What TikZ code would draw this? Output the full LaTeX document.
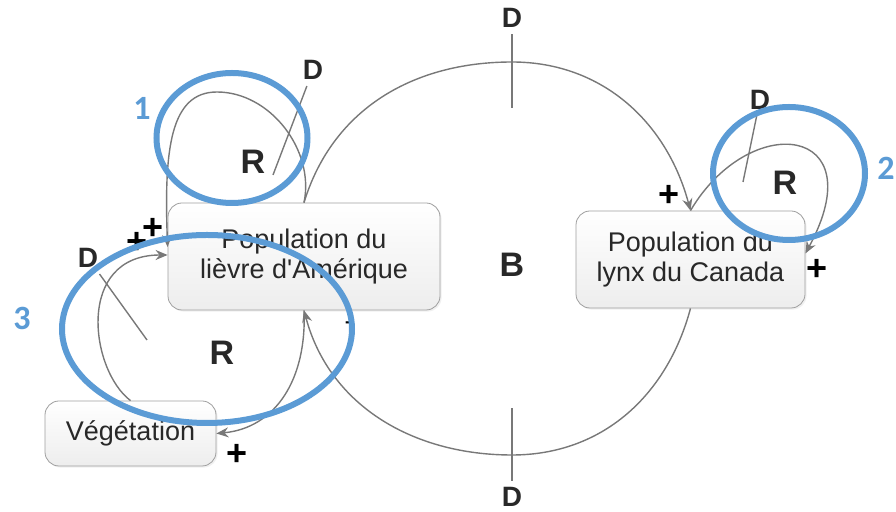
\documentclass[tikz,border=0pt]{standalone}
\usepackage{fontspec}
\setmainfont{Liberation Sans}
\newfontfamily\numfont{Carlito}
\usepackage{xcolor}
\usepackage{tikz}
\usetikzlibrary{arrows.meta, shadows}
\definecolor{ringcolor}{RGB}{91,155,213}
\definecolor{linkcolor}{RGB}{120,120,120}
\definecolor{inkcolor}{RGB}{40,40,40}

\begin{document}
\begin{tikzpicture}[x=0.5pt, y=-0.5pt,
    box/.style={draw=gray!75, rounded corners=7pt, top color=white,
                bottom color=gray!14, align=center, text=inkcolor,
                font=\fontsize{13.5}{15}\selectfont, inner sep=2pt,
                drop shadow={opacity=0.12, shadow xshift=0.8pt,
                             shadow yshift=-0.8pt}},
    arrow/.style={-{Stealth[length=6pt, width=5pt]}, linkcolor,
                  line width=0.7pt},
    tick/.style={linkcolor, line width=0.7pt},
    tag/.style={font=\fontsize{17}{17}\selectfont\bfseries, text=inkcolor,
                inner sep=0pt},
    dtag/.style={font=\fontsize{14}{14}\selectfont\bfseries, text=inkcolor,
                 inner sep=3pt},
    sign/.style={font=\fontsize{18}{18}\selectfont\bfseries, text=black,
                 inner sep=0pt},
    ring/.style={draw=ringcolor, line width=3pt},
    num/.style={font=\fontsize{17}{17}\selectfont\numfont\bfseries,
                text=ringcolor, inner sep=0pt}
  ]
  \useasboundingbox (0,0) rectangle (896,512);

  % Nodes
  \node[box, minimum width=136pt, minimum height=53.5pt] (hare) at (304,256.5)
        {Population du\\lièvre d\textquotesingle Amérique};
  \node[box, minimum width=114.5pt, minimum height=48.5pt] (lynx) at (690.5,259.5)
        {Population du\\lynx du Canada};
  \node[box, minimum width=85.5pt, minimum height=32.5pt] (veg) at (130.5,433.5)
        {Végétation};

  % Loop labels
  \node[tag] (r1)  at (253,162) {R};
  \node[tag] (r2)  at (785,183) {R};
  \node[tag] (r3)  at (222,353) {R};
  \node[tag] (bal) at (512,265) {B};

  % Delays
  \node[dtag] (dtop) at (512,18)  {D};
  \node[dtag] (dbot) at (512,497) {D};
  \node[dtag] (d1)   at (313,70)  {D};
  \node[dtag] (d2)   at (760,100) {D};
  \node[dtag] (d3)   at (88,258)  {D};
  \coordinate (ttop) at (512,108);
  \coordinate (tbot) at (512,408);
  \coordinate (t1)   at (273,175);
  \coordinate (t2)   at (743,182);
  \coordinate (t3)   at (147,340);
  \coordinate (btop) at (512,62);
  \coordinate (bbot) at (512,455);

  \draw[tick] (dtop) -- (ttop);
  \draw[tick] (dbot) -- (tbot);
  \draw[tick] (d1) -- (t1);
  \draw[tick] (d2) -- (t2);
  \draw[tick] (d3) -- (t3);

  % Arrows: hare and lynx
  \draw[arrow] (hare.north) to[out=73, in=180] (btop)
                            to[out=0, in=105] (lynx.north);
  \draw[arrow] (lynx.south) to[out=-105, in=0] (bbot)
                            to[out=180, in=-75] (hare.south);
  \draw[arrow] (hare.north) .. controls (315,150) and (270,92) .. (217,92)
                            .. controls (170,92) and (164,150) .. ([yshift=4.75pt]hare.west);
  \draw[arrow] (lynx.north) .. controls (750,110) and (875,125) .. ([yshift=3pt]lynx.east);

  % Arrows: vegetation
  \draw[arrow] (hare.south) .. controls (307,380) and (275,428) .. (veg.east);
  \draw[arrow] (veg.north) .. controls (90,370) and (75,255) .. ([yshift=0.75pt]hare.west);

  % Signs
  \node[sign] (s1) at (153,229) {+};
  \node[sign] (s2) at (137,243) {+};
  \node[sign] (s3) at (669,196) {+};
  \node[sign] (s4) at (817,270) {+};
  \node[sign] (s5) at (237,455) {+};
  \node[sign, font=\fontsize{9}{9}\selectfont\bfseries] (s6) at (348,325) {-};

  % Highlights
  \draw[ring] (232,138) ellipse [x radius=75.5, y radius=65];
  \draw[ring] (789,173.5) ellipse [x radius=76, y radius=66.5];
  \draw[ring] (207,329) ellipse [x radius=145, y radius=94];
  \node[num] (n1) at (142,108) {1};
  \node[num] (n2) at (886,168) {2};
  \node[num] (n3) at (22,318)  {3};
\end{tikzpicture}
\end{document}
